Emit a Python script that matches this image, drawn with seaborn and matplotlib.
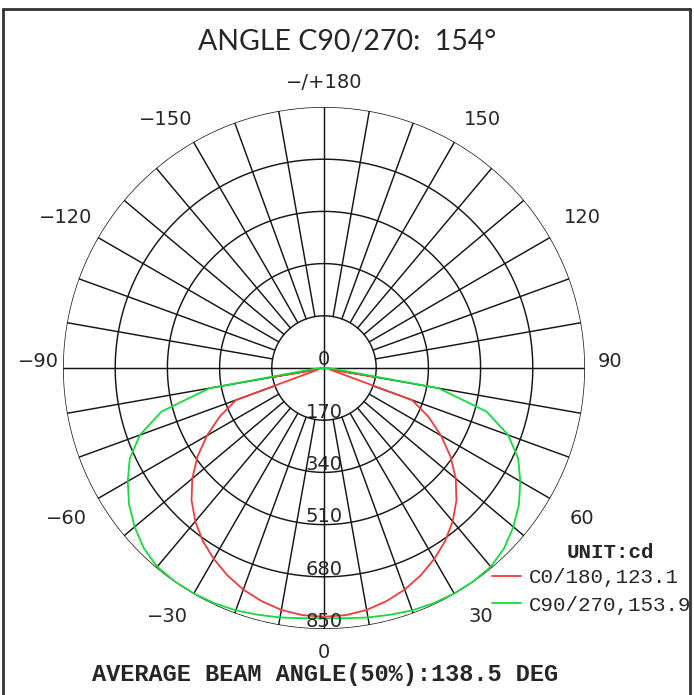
import numpy as np
import pandas as pd
import matplotlib
matplotlib.use("Agg")
import matplotlib.pyplot as plt
from matplotlib import font_manager
from matplotlib.lines import Line2D
import seaborn as sns

# ---- data ----
angles_deg = [0, 5, 10, 15, 20, 25, 30, 35, 40, 45, 50, 55, 60, 65, 70, 75, 80, 85, 90]
c0_180_cd = [810, 808, 800, 786, 768, 745, 718, 688, 652, 610, 560, 503, 440, 375, 305, 20, 170, 10, 0]
c90_270_cd = [815, 818, 825, 832, 840, 845, 848, 848, 845, 830, 805, 775, 738, 698, 638, 548, 378, 30, 0]
series_names = ["C0/180,123.1", "C90/270,153.9"]
series_colors = ["#f23c3c", "#14dc3c"]
ring_values = [170, 340, 510, 680, 850]
angle_labels = ["0", "30", "60", "90", "120", "150", "\u2212/+180",
                "\u221230", "\u221260", "\u221290", "\u2212120", "\u2212150"]
title_text = "ANGLE C90/270:  154\u00b0"
bottom_text = "AVERAGE BEAM ANGLE(50%):138.5 DEG"
unit_text = "UNIT:cd"

sns.set_style("white")
names = {f.name for f in font_manager.fontManager.ttflist}
title_font = "Lato" if "Lato" in names else "DejaVu Sans"
mono_font = "Liberation Mono" if "Liberation Mono" in names else "DejaVu Sans Mono"
plt.rcParams["font.family"] = ["DejaVu Sans"]

# ---- build table for seaborn ----
rows = []
for name, vals in zip(series_names, [c0_180_cd, c90_270_cd]):
    full_a = [-a for a in angles_deg[::-1]] + angles_deg[1:]
    full_v = vals[::-1] + vals[1:]
    for a, v in zip(full_a, full_v):
        rows.append({"theta": np.deg2rad(a), "cd": v, "series": name})
df = pd.DataFrame(rows)

fig = plt.figure(figsize=(6.94, 6.95), dpi=100)
cx, cy, rpx = 324, 368, 261
W, H = 694, 695
ax = fig.add_axes([(cx - rpx) / W, (H - cy - rpx) / H, 2 * rpx / W, 2 * rpx / H], projection="polar")
ax.set_theta_zero_location("S")
ax.set_theta_direction(1)
ax.set_ylim(0, 850)
ax.grid(False)
ax.spines["polar"].set_visible(False)
ax.set_xticks([])
ax.set_yticks([])
ax.patch.set_alpha(0)

gc = "#151515"
glw = 1.05
tt = np.linspace(0, 2 * np.pi, 721)
for r in ring_values:
    ax.plot(tt, np.full_like(tt, r), color=gc, lw=glw, zorder=1)
for a in range(0, 360, 10):
    t = np.deg2rad(a)
    r0 = 0 if a % 90 == 0 else ring_values[0]
    ax.plot([t, t], [r0, 850], color=gc, lw=glw, zorder=1)

sns.lineplot(data=df, x="theta", y="cd", hue="series", palette=series_colors,
             sort=False, estimator=None, units="series", ax=ax, lw=1.3, zorder=3, legend=False)
ax.set_xlabel("")
ax.set_ylabel("")
ax.set_ylim(0, 850)

# ring labels
ax.text(np.pi, 29, "0", ha="center", va="center", fontsize=14, zorder=4)
for r in ring_values:
    ax.text(0, r - 25, str(r), ha="center", va="center", fontsize=14, zorder=4)

# angle labels (theta deg, r data)
pos = [(0, 928), (32.2, 958), (59.7, 973), (91.4, 931), (120.3, 973), (147.6, 960), (180, 931),
       (-32.2, 958), (-59.7, 973), (-91.4, 931), (-120.3, 973), (-147.6, 960)]
for lab, (a, r) in zip(angle_labels, pos):
    ax.text(np.deg2rad(a), r, lab, ha="center", va="center", fontsize=14, clip_on=False)

# legend
handles = [Line2D([], [], color=c, lw=1.3) for c in series_colors]
leg = ax.legend(handles, series_names, loc="upper left", bbox_to_anchor=(492 / W, 1 - 568 / H),
                bbox_transform=fig.transFigure, frameon=False,
                prop={"family": mono_font, "size": 15}, handlelength=1.4, handletextpad=0.35,
                borderpad=0, borderaxespad=0, labelspacing=0.42)
fig.text(610 / W, 1 - 552 / H, unit_text, ha="center", va="center", fontsize=15,
         family=mono_font, weight="bold")

fig.text(0.5, 1 - 42 / H, title_text, ha="center", va="center", fontsize=20.5, family=title_font)
fig.text(325 / W, 1 - 675 / H, bottom_text, ha="center", va="center", fontsize=17,
         family=mono_font, weight="bold")

# outer frame
fc = "#333333"
fig.add_artist(Line2D([3 / W, 3 / W], [0, 1 - 9 / H], color=fc, lw=2))
fig.add_artist(Line2D([3 / W, 690 / W], [1 - 9 / H, 1 - 9 / H], color=fc, lw=2))
fig.add_artist(Line2D([690 / W, 690 / W], [0, 1 - 9 / H], color=fc, lw=2))

fig.savefig("out.png", dpi=100)
